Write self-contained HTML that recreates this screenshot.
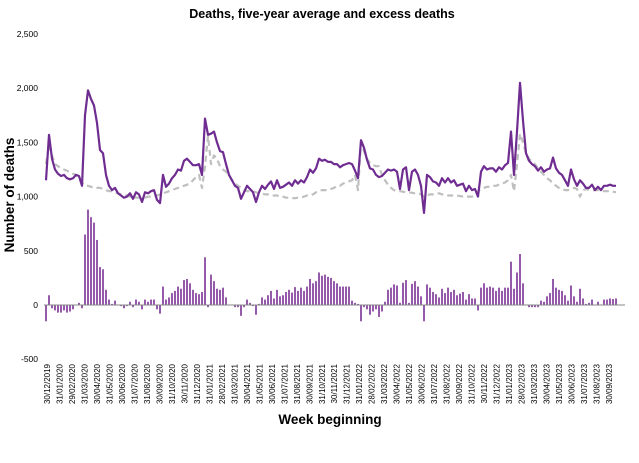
<!DOCTYPE html>
<html><head><meta charset="utf-8">
<style>
html,body{margin:0;padding:0;background:#fff;}
svg{display:block;font-family:"Liberation Sans",Arial,sans-serif;}
</style></head>
<body>
<svg id="chart" width="639" height="463" viewBox="0 0 639 463" xmlns="http://www.w3.org/2000/svg">
<text x="322" y="18" text-anchor="middle" font-size="12.5" font-weight="bold" fill="#000">Deaths, five-year average and excess deaths</text>
<text transform="translate(14,195) rotate(-90)" text-anchor="middle" font-size="13.5" font-weight="bold" fill="#000">Number of deaths</text>
<text x="330" y="424" text-anchor="middle" font-size="13.5" font-weight="bold" fill="#000">Week beginning</text>
<g id="yticks"></g>
<g id="bars"></g>
<line x1="44" y1="305" x2="625" y2="305" stroke="#888" stroke-width="1"/>
<g id="lines"></g>
<g id="xticks"></g>
</svg>
<script>
const yTicks = [2500, 2000, 1500, 1000, 500, 0, -500];
const yTickLabels = ["2,500", "2,000", "1,500", "1,000", "500", "0", "-500"];
const xTickLabels = ["30/12/2019","31/01/2020","29/02/2020","31/03/2020","30/04/2020","31/05/2020","30/06/2020","31/07/2020","31/08/2020","30/09/2020","31/10/2020","30/11/2020","31/12/2020","31/01/2021","28/02/2021","31/03/2021","30/04/2021","31/05/2021","30/06/2021","31/07/2021","31/08/2021","30/09/2021","31/10/2021","30/11/2021","31/12/2021","31/01/2022","28/02/2022","31/03/2022","30/04/2022","31/05/2022","30/06/2022","31/07/2022","31/08/2022","30/09/2022","31/10/2022","30/11/2022","31/12/2022","31/01/2023","28/02/2023","31/03/2023","30/04/2023","31/05/2023","30/06/2023","31/07/2023","31/08/2023","30/09/2023"];
const deaths = [1150,1570,1350,1250,1210,1190,1200,1170,1160,1170,1200,1190,1100,1750,1980,1900,1840,1680,1430,1400,1200,1100,1060,1080,1030,1010,990,1000,1030,980,1040,1020,950,1040,1030,1050,1060,970,940,1200,1090,1120,1170,1200,1250,1240,1330,1350,1320,1290,1290,1300,1200,1720,1570,1580,1600,1500,1420,1410,1300,1200,1150,1100,1080,980,1040,1100,1070,1040,950,1040,1100,1070,1110,1140,1070,1150,1080,1090,1110,1130,1100,1150,1120,1150,1130,1180,1250,1220,1260,1350,1330,1340,1320,1320,1300,1300,1270,1290,1300,1310,1300,1240,1170,1520,1450,1340,1260,1250,1200,1180,1190,1220,1250,1240,1250,1230,1070,1250,1270,1060,1230,1250,1200,1100,850,1200,1180,1140,1130,1100,1170,1130,1170,1130,1150,1100,1110,1120,1050,1100,1060,1070,1000,1230,1280,1250,1260,1260,1230,1270,1250,1290,1310,1600,1200,1600,2050,1700,1400,1330,1300,1280,1240,1270,1230,1250,1260,1360,1260,1220,1200,1150,1100,1250,1160,1100,1150,1120,1080,1080,1110,1060,1090,1060,1100,1100,1110,1100,1100];
const average = [1300,1480,1380,1300,1280,1260,1250,1240,1220,1210,1200,1170,1130,1100,1100,1090,1080,1080,1080,1070,1060,1050,1050,1040,1030,1020,1020,1010,1000,1000,990,990,990,990,1000,1000,1010,1010,1020,1030,1040,1050,1060,1070,1080,1090,1100,1110,1120,1150,1180,1200,1080,1280,1560,1300,1380,1350,1280,1250,1230,1200,1150,1120,1100,1080,1060,1050,1050,1050,1040,1030,1030,1020,1020,1010,1010,1010,1000,1000,990,990,985,985,990,990,1000,1010,1010,1020,1040,1050,1060,1060,1060,1070,1080,1100,1100,1120,1130,1140,1150,1200,1060,1500,1420,1350,1310,1290,1280,1280,1200,1150,1110,1080,1060,1050,1050,1045,1040,1040,1035,1030,1030,1020,1000,1010,1020,1020,1030,1030,1020,1020,1010,1010,1010,1010,1005,1000,1000,1000,1000,1010,1050,1070,1080,1090,1090,1100,1100,1110,1120,1130,1150,1200,1050,1300,1580,1500,1400,1350,1320,1300,1260,1230,1200,1170,1150,1120,1100,1080,1070,1060,1060,1070,1080,1070,1000,1060,1070,1060,1060,1060,1060,1055,1050,1050,1050,1045,1040];
const excess = [-150,90,-30,-50,-70,-70,-50,-70,-60,-40,0,20,-30,650,880,810,760,600,350,330,140,50,10,40,0,-10,-30,-10,30,-20,50,30,-40,50,30,50,50,-40,-80,170,50,70,110,130,170,150,230,240,200,140,110,100,120,440,-20,280,220,150,140,160,70,0,0,-20,-20,-100,-20,50,20,-10,-90,10,70,50,90,130,60,140,80,90,120,140,115,165,130,160,130,170,240,200,220,300,270,280,260,250,220,200,170,170,170,170,40,20,10,-150,-20,-40,-90,-60,-40,-110,-60,30,140,160,190,180,20,205,230,20,195,220,170,80,-150,190,160,120,100,70,150,110,160,120,140,90,105,120,50,100,60,60,-50,160,200,160,170,160,130,160,130,160,160,400,150,300,470,200,0,-20,-20,-20,-20,40,30,80,110,240,160,140,130,90,40,180,80,30,150,60,10,20,50,0,30,5,50,50,60,55,60];

const NS = "http://www.w3.org/2000/svg";
const X0 = 46, X1 = 616, XL0 = 47, XL1 = 609;
function yScale(v){ return 305 - v * (271/2500); }
function xScale(i){ return X0 + i * (X1 - X0) / (deaths.length - 1); }
function xLabel(i){ return XL0 + i * (XL1 - XL0) / (xTickLabels.length - 1); }
function mk(tag, attrs, parent){ const e = document.createElementNS(NS, tag); for (const k in attrs) e.setAttribute(k, attrs[k]); parent.appendChild(e); return e; }

const yg = document.getElementById('yticks');
yTicks.forEach((v, i) => {
  const t = mk('text', {x: 38, y: yScale(v) + 3, 'text-anchor': 'end', 'font-size': 8.5, fill: '#000'}, yg);
  t.textContent = yTickLabels[i];
  
  
});

const xg = document.getElementById('xticks');
xTickLabels.forEach((lab, i) => {
  const x = xLabel(i);
  const t = mk('text', {transform: `translate(${x + 3},364) rotate(-90)`, 'text-anchor': 'end', 'font-size': 8, fill: '#000'}, xg);
  t.textContent = lab;
  
  
});

const bg = document.getElementById('bars');
excess.forEach((v, i) => {
  const x = xScale(i);
  const y0 = yScale(0), y1 = yScale(v);
  const r = mk('rect', {x: x - 0.8, y: Math.min(y0, y1), width: 1.6, height: Math.max(0.5, Math.abs(y1 - y0)), fill: '#7b3294'}, bg);
  
  
});

const lg = document.getElementById('lines');
const avgPts = average.map((v, i) => xScale(i).toFixed(1) + ',' + yScale(v).toFixed(1)).join(' ');
const avgLine = mk('polyline', {points: avgPts, fill: 'none', stroke: '#bfbfbf', 'stroke-width': 2.2, 'stroke-dasharray': '6,4', 'stroke-linejoin': 'round'}, lg);


const dPts = deaths.map((v, i) => xScale(i).toFixed(1) + ',' + yScale(v).toFixed(1)).join(' ');
const dLine = mk('polyline', {points: dPts, fill: 'none', stroke: '#6f2c91', 'stroke-width': 2.2, 'stroke-linejoin': 'round'}, lg);


</script>
</body></html>
